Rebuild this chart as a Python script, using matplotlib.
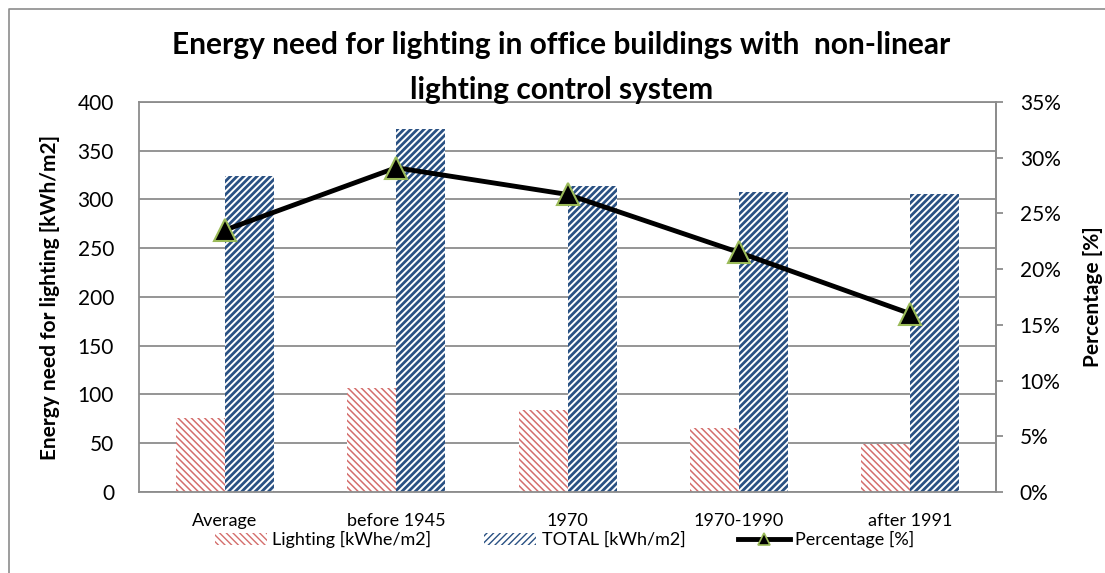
import matplotlib.pyplot as plt
import matplotlib.patches as mpatches
from matplotlib.lines import Line2D
from matplotlib.ticker import FuncFormatter
import numpy as np

plt.rcParams['font.family'] = ['Lato', 'DejaVu Sans']

categories = ["Average", "before 1945", "1970", "1970-1990", "after 1991"]
lighting = [76, 107, 84, 66, 49]
total = [324, 372, 314, 308, 306]
percentage = [23.5, 29.1, 26.7, 21.5, 16.0]

red = '#d46e6c'
blue = '#2a5183'
grid_gray = '#8c8c8c'
red_hatch = '\\' * 5
blue_hatch = '/' * 5

fig = plt.figure(figsize=(11.05, 5.73), dpi=100)
ax = fig.add_axes([0.1258, 0.1414, 0.7756, 0.6806])
x = np.arange(len(categories))
w = 0.286

# hatched bars (excel-like pattern fill)
with plt.rc_context({'hatch.linewidth': 1.1}):
    ax.bar(x - w / 2, lighting, w, facecolor='white', edgecolor=red,
           hatch=red_hatch, linewidth=0, zorder=2)
with plt.rc_context({'hatch.linewidth': 2.0}):
    ax.bar(x + w / 2, total, w, facecolor='white', edgecolor=blue,
           hatch=blue_hatch, linewidth=0, zorder=2)

ax.set_ylim(0, 400)
ax.set_yticks(range(0, 401, 50))
ax.set_xlim(-0.5, len(categories) - 0.5)
ax.set_xticks(x)
ax.set_xticklabels(categories, fontsize=13)
ax.tick_params(axis='y', labelsize=15, length=0, pad=18)
ax.tick_params(axis='x', length=0, pad=15)
ax.grid(axis='y', color=grid_gray, linewidth=1.3, zorder=0)
ax.set_axisbelow(True)
for s in ax.spines.values():
    s.set_color(grid_gray)
    s.set_linewidth(1.3)

ax2 = ax.twinx()
ax2.plot(x, percentage, color='black', linewidth=3.5, marker='^',
         markersize=16, markerfacecolor='black', markeredgecolor='#9bbb59',
         markeredgewidth=1.5, zorder=5)
ax2.set_ylim(0, 35)
ax2.set_yticks(range(0, 36, 5))
ax2.yaxis.set_major_formatter(FuncFormatter(lambda v, p: f"{int(v)}%"))
ax2.tick_params(axis='y', labelsize=15, length=5, width=1.3, color=grid_gray, pad=12)
for s in ax2.spines.values():
    s.set_visible(False)
ax2.spines['right'].set_visible(True)
ax2.spines['right'].set_color(grid_gray)
ax2.spines['right'].set_linewidth(1.3)

fig.text(50 / 1105, 1 - 297 / 573, "Energy need for lighting [kWh/m2]", rotation=90,
         ha='center', va='center', fontsize=15, fontweight='bold')
fig.text(1093 / 1105, 1 - 297 / 573, "Percentage [%]", rotation=90,
         ha='center', va='center', fontsize=15, fontweight='bold')

fig.text(0.508, 0.921, "Energy need for lighting in office buildings with  non-linear",
         ha='center', va='center', fontsize=21.5, fontweight='bold')
fig.text(0.508, 0.843, "lighting control system",
         ha='center', va='center', fontsize=21.5, fontweight='bold')

with plt.rc_context({'hatch.linewidth': 1.1}):
    h1 = mpatches.Patch(facecolor='white', edgecolor=red, hatch=red_hatch, linewidth=0)
with plt.rc_context({'hatch.linewidth': 2.0}):
    h2 = mpatches.Patch(facecolor='white', edgecolor=blue, hatch=blue_hatch, linewidth=0)
h3 = Line2D([], [], color='black', linewidth=3.5, marker='^', markersize=9,
            markerfacecolor='black', markeredgecolor='#9bbb59', markeredgewidth=1.2)
fig.legend([h1, h2, h3], ["Lighting [kWhe/m2]", "TOTAL [kWh/m2]", "Percentage [%]"],
           loc='center', bbox_to_anchor=(0.511, 0.058), ncol=3, frameon=False,
           fontsize=13, handlelength=2.9, handletextpad=0.3, columnspacing=2.9)

# outer chart border (left and top edges visible)
fig.add_artist(Line2D([9 / 1105, 9 / 1105, 1.0], [0.0, 1 - 9 / 573, 1 - 9 / 573],
                      transform=fig.transFigure, color='#8c8c8c', linewidth=1.2))

fig.savefig('out.png', dpi=100)
